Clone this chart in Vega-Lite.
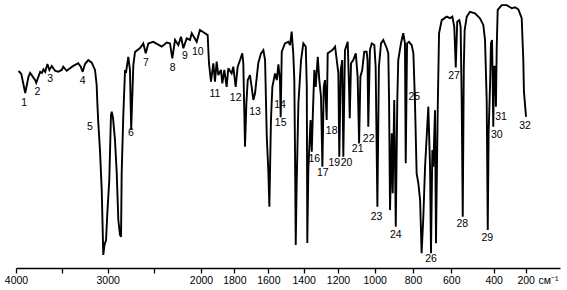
{
  "$schema": "https://vega.github.io/schema/vega-lite/v6.json",
  "autosize": {"type": "none"},
  "padding": {"left": 16, "top": 0, "right": 7, "bottom": 22},
  "width": 544,
  "height": 268,
  "background": "white",
  "config": {"view": {"stroke": null}},
  "datasets": {
    "spec": [
      {"wn":3972,"t":73.5},{"wn":3942,"t":72.4},{"wn":3899,"t":65.3},{"wn":3863,"t":71.4},{"wn":3845,"t":72.8},
      {"wn":3790,"t":70.1},{"wn":3779,"t":69.1},{"wn":3736,"t":73.2},{"wn":3717,"t":72.8},{"wn":3700,"t":74.1},
      {"wn":3681,"t":73.2},{"wn":3656,"t":76.1},{"wn":3635,"t":73.9},{"wn":3609,"t":75.4},{"wn":3573,"t":73.6},
      {"wn":3537,"t":73.2},{"wn":3500,"t":73.9},{"wn":3483,"t":75.1},{"wn":3446,"t":73.6},{"wn":3410,"t":74.5},
      {"wn":3374,"t":75.4},{"wn":3320,"t":76.4},{"wn":3293,"t":75.1},{"wn":3272,"t":73.2},{"wn":3247,"t":76.1},
      {"wn":3211,"t":77.6},{"wn":3174,"t":76.6},{"wn":3138,"t":73.9},{"wn":3120,"t":68.3},{"wn":3113,"t":62.0},
      {"wn":3102,"t":54.1},{"wn":3084,"t":44.0},{"wn":3065,"t":29.1},{"wn":3048,"t":4.9},{"wn":3035,"t":8.6},
      {"wn":3018,"t":10.4},{"wn":3004,"t":20.5},{"wn":2983,"t":32.8},{"wn":2965,"t":57.0},{"wn":2957,"t":58.3},
      {"wn":2943,"t":56.0},{"wn":2922,"t":47.8},{"wn":2903,"t":35.4},{"wn":2886,"t":17.9},{"wn":2868,"t":12.3},
      {"wn":2857,"t":11.7},{"wn":2850,"t":35.4},{"wn":2833,"t":56.4},{"wn":2814,"t":73.9},{"wn":2804,"t":72.8},
      {"wn":2779,"t":78.8},{"wn":2761,"t":73.9},{"wn":2748,"t":51.5},{"wn":2725,"t":75.7},{"wn":2707,"t":80.6},
      {"wn":2653,"t":82.1},{"wn":2618,"t":83.8},{"wn":2592,"t":80.1},{"wn":2564,"t":83.8},{"wn":2511,"t":84.4},
      {"wn":2421,"t":82.6},{"wn":2367,"t":84.1},{"wn":2332,"t":83.8},{"wn":2307,"t":78.2},{"wn":2278,"t":85.1},
      {"wn":2243,"t":83.2},{"wn":2214,"t":86.3},{"wn":2189,"t":82.0},{"wn":2153,"t":85.7},{"wn":2118,"t":85.1},
      {"wn":2099,"t":87.6},{"wn":2046,"t":84.4},{"wn":2011,"t":88.8},{"wn":1976,"t":87.6},{"wn":1960,"t":86.9},
      {"wn":1952,"t":76.4},{"wn":1940,"t":69.5},{"wn":1926,"t":76.4},{"wn":1916,"t":69.5},{"wn":1906,"t":77.0},
      {"wn":1896,"t":72.0},{"wn":1880,"t":73.9},{"wn":1872,"t":68.9},{"wn":1860,"t":73.9},{"wn":1846,"t":67.6},
      {"wn":1836,"t":74.5},{"wn":1816,"t":72.6},{"wn":1806,"t":75.1},{"wn":1792,"t":67.6},{"wn":1780,"t":75.1},
      {"wn":1766,"t":77.6},{"wn":1753,"t":80.1},{"wn":1747,"t":76.4},{"wn":1741,"t":57.7},{"wn":1737,"t":45.3},
      {"wn":1729,"t":61.4},{"wn":1721,"t":70.1},{"wn":1708,"t":72.0},{"wn":1698,"t":67.6},{"wn":1688,"t":62.7},
      {"wn":1678,"t":65.2},{"wn":1659,"t":76.4},{"wn":1643,"t":80.1},{"wn":1629,"t":81.3},{"wn":1619,"t":77.6},
      {"wn":1609,"t":49.0},{"wn":1600,"t":36.6},{"wn":1594,"t":22.9},{"wn":1585,"t":55.2},{"wn":1577,"t":67.6},
      {"wn":1562,"t":72.6},{"wn":1552,"t":70.1},{"wn":1543,"t":76.0},{"wn":1534,"t":70.1},{"wn":1530,"t":56.3},
      {"wn":1524,"t":80.7},{"wn":1506,"t":83.8},{"wn":1487,"t":84.4},{"wn":1477,"t":83.2},{"wn":1468,"t":88.2},
      {"wn":1459,"t":80.1},{"wn":1453,"t":70.1},{"wn":1449,"t":42.9},{"wn":1445,"t":8.6},{"wn":1440,"t":30.3},
      {"wn":1430,"t":61.4},{"wn":1415,"t":77.6},{"wn":1402,"t":83.8},{"wn":1388,"t":82.6},{"wn":1382,"t":67.6},
      {"wn":1379,"t":9.3},{"wn":1373,"t":36.6},{"wn":1367,"t":45.3},{"wn":1360,"t":55.2},{"wn":1353,"t":43.4},
      {"wn":1346,"t":58.9},{"wn":1338,"t":73.9},{"wn":1330,"t":67.6},{"wn":1318,"t":78.8},{"wn":1309,"t":70.1},
      {"wn":1299,"t":63.9},{"wn":1291,"t":37.8},{"wn":1283,"t":67.6},{"wn":1276,"t":70.1},{"wn":1266,"t":55.2},
      {"wn":1260,"t":80.1},{"wn":1247,"t":80.7},{"wn":1233,"t":81.3},{"wn":1217,"t":82.6},{"wn":1198,"t":72.6},
      {"wn":1193,"t":41.5},{"wn":1185,"t":73.9},{"wn":1177,"t":77.6},{"wn":1171,"t":41.5},{"wn":1162,"t":81.3},
      {"wn":1147,"t":84.4},{"wn":1140,"t":67.6},{"wn":1136,"t":55.9},{"wn":1129,"t":76.4},{"wn":1117,"t":77.6},
      {"wn":1103,"t":80.1},{"wn":1093,"t":71.4},{"wn":1085,"t":46.5},{"wn":1078,"t":71.4},{"wn":1068,"t":73.9},
      {"wn":1057,"t":80.7},{"wn":1044,"t":80.7},{"wn":1039,"t":77.6},{"wn":1035,"t":52.7},{"wn":1026,"t":81.3},
      {"wn":1016,"t":83.8},{"wn":1002,"t":83.2},{"wn":995,"t":75.1},{"wn":986,"t":22.9},{"wn":978,"t":75.1},
      {"wn":967,"t":83.8},{"wn":955,"t":85.1},{"wn":937,"t":82.0},{"wn":929,"t":80.1},{"wn":925,"t":62.7},
      {"wn":920,"t":21.6},{"wn":911,"t":50.3},{"wn":906,"t":27.9},{"wn":898,"t":62.7},{"wn":890,"t":15.4},
      {"wn":882,"t":62.7},{"wn":877,"t":77.6},{"wn":863,"t":83.8},{"wn":851,"t":87.6},{"wn":842,"t":83.8},
      {"wn":838,"t":39.1},{"wn":831,"t":83.8},{"wn":821,"t":84.4},{"wn":807,"t":83.2},{"wn":798,"t":80.1},
      {"wn":790,"t":62.7},{"wn":781,"t":35.3},{"wn":772,"t":31.6},{"wn":763,"t":25.4},{"wn":755,"t":5.5},
      {"wn":746,"t":19.1},{"wn":737,"t":37.8},{"wn":720,"t":60.2},{"wn":711,"t":37.8},{"wn":706,"t":5.5},
      {"wn":699,"t":44.0},{"wn":694,"t":37.8},{"wn":685,"t":58.9},{"wn":680,"t":9.2},{"wn":671,"t":58.9},
      {"wn":664,"t":87.6},{"wn":650,"t":92.5},{"wn":624,"t":93.8},{"wn":607,"t":93.2},{"wn":595,"t":93.8},
      {"wn":586,"t":90.0},{"wn":579,"t":74.8},{"wn":572,"t":91.9},{"wn":562,"t":92.5},{"wn":556,"t":90.0},
      {"wn":551,"t":62.7},{"wn":546,"t":19.1},{"wn":541,"t":75.1},{"wn":537,"t":88.8},{"wn":527,"t":93.8},
      {"wn":512,"t":95.6},{"wn":488,"t":95.0},{"wn":465,"t":93.2},{"wn":449,"t":90.7},{"wn":441,"t":85.1},
      {"wn":433,"t":62.7},{"wn":428,"t":14.2},{"wn":424,"t":50.3},{"wn":417,"t":68.9},{"wn":413,"t":83.8},
      {"wn":408,"t":85.1},{"wn":405,"t":71.4},{"wn":402,"t":52.7},{"wn":398,"t":75.1},{"wn":392,"t":75.1},
      {"wn":386,"t":60.2},{"wn":381,"t":82.6},{"wn":375,"t":96.3},{"wn":350,"t":98.1},{"wn":319,"t":98.1},
      {"wn":287,"t":96.9},{"wn":267,"t":97.3},{"wn":246,"t":96.5},{"wn":225,"t":93.2},{"wn":215,"t":77.6},
      {"wn":211,"t":65.8},{"wn":198,"t":56.4}
    ],
    "labels": [
      {"n":"1","wn":3910,"t":61.7},{"n":"2","wn":3765,"t":65.8},{"n":"3","wn":3627,"t":70.4},{"n":"4","wn":3272,"t":69.9},
      {"n":"5","wn":3192,"t":52.5},{"n":"6","wn":2750,"t":50.5},{"n":"7","wn":2589,"t":76.6},{"n":"8","wn":2303,"t":74.7},
      {"n":"9","wn":2171,"t":79.2},{"n":"10","wn":2035,"t":80.7},{"n":"11","wn":1916,"t":64.9},{"n":"12","wn":1792,"t":63.3},
      {"n":"13","wn":1678,"t":58.3},{"n":"14","wn":1534,"t":60.8},{"n":"15","wn":1530,"t":54.0},{"n":"16","wn":1338,"t":40.6},
      {"n":"17","wn":1289,"t":35.3},{"n":"18","wn":1237,"t":51.2},{"n":"19","wn":1222,"t":39.3},{"n":"20","wn":1153,"t":39.3},
      {"n":"21","wn":1093,"t":44.3},{"n":"22","wn":1033,"t":48.0},{"n":"23","wn":990,"t":19.1},{"n":"24","wn":890,"t":12.3},
      {"n":"25","wn":793,"t":63.9},{"n":"26","wn":706,"t":3.2},{"n":"27","wn":587,"t":71.6},{"n":"28","wn":548,"t":16.4},
      {"n":"29","wn":430,"t":11.1},{"n":"30","wn":381,"t":49.6},{"n":"31","wn":354,"t":56.5},{"n":"32","wn":204,"t":53.0}
    ]
  },
  "layer": [
    {
      "data": {"name": "spec"},
      "mark": {"type": "line", "color": "black", "strokeWidth": 1.9, "strokeJoin": "miter", "strokeMiterLimit": 3},
      "encoding": {
        "x": {
          "field": "wn", "type": "quantitative",
          "scale": {
            "domain": [4000,3500,3000,2500,2000,1800,1600,1400,1200,1000,800,600,400,200,0],
            "range": [0,45.7,91.7,138.3,185,218.3,252.3,287.7,322,358.7,397,435.3,477.7,509.7,544],
            "nice": false, "zero": false
          },
          "axis": {
            "values": [4000,3500,3000,2500,2000,1800,1600,1400,1200,1000,800,600,400,200],
            "labelExpr": "datum.value == 3500 || datum.value == 2500 ? '' : datum.label",
            "format": "d",
            "grid": false,
            "domainColor": "black", "domainWidth": 1.5,
            "tickColor": "black", "tickWidth": 1.3, "tickSize": 5,
            "labelColor": "black", "labelFont": "Liberation Sans", "labelFontSize": 10.5,
            "labelPadding": 2, "labelOverlap": false, "labelFlush": false,
            "title": "см⁻¹", "titleX": 532, "titleY": 12, "titleAlign": "center", "titleBaseline": "middle",
            "titleFont": "Liberation Sans", "titleFontSize": 10.5, "titleFontWeight": "normal", "titleColor": "black"
          }
        },
        "y": {"field": "t", "type": "quantitative", "scale": {"domain": [0, 100], "nice": false, "zero": false}, "axis": null}
      }
    },
    {
      "data": {"name": "labels"},
      "mark": {"type": "text", "font": "Liberation Sans", "fontSize": 10.5, "color": "black", "align": "center", "baseline": "middle"},
      "encoding": {
        "x": {"field": "wn", "type": "quantitative"},
        "y": {"field": "t", "type": "quantitative"},
        "text": {"field": "n"}
      }
    }
  ]
}
